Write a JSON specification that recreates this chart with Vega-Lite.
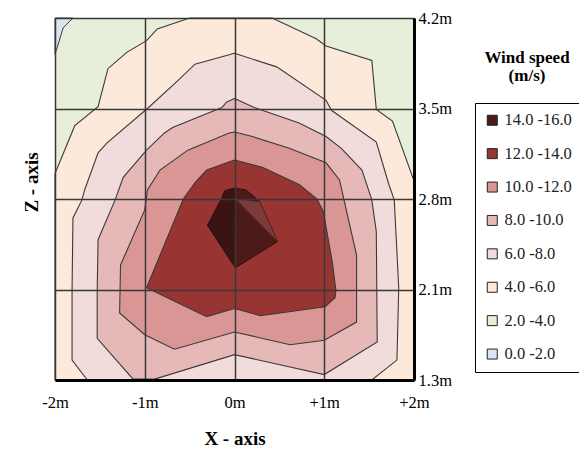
{
  "$schema": "https://vega.github.io/schema/vega-lite/v6.json",
  "width": 359,
  "height": 362,
  "autosize": {"type": "none"},
  "padding": {"left": 55, "top": 18, "right": 165, "bottom": 70},
  "background": "white",
  "config": {"view": {"stroke": null}, "font": "Liberation Serif"},
  "title": {"text": ["Wind speed", "(m/s)"], "orient": "top", "anchor": "end", "frame": "group", "align": "center", "dx": 113, "dy": 79, "font": "Liberation Serif", "fontSize": 17, "fontWeight": "bold", "color": "black", "lineHeight": 18},
  "datasets": {
    "c2": [{"b":"2.0 -4.0","i":0,"x":-2,"y":0},{"b":"2.0 -4.0","i":1,"x":2,"y":0},{"b":"2.0 -4.0","i":2,"x":2,"y":4},{"b":"2.0 -4.0","i":3,"x":-2,"y":4},{"b":"2.0 -4.0","i":4,"x":-2,"y":0}],
    "c0": [{"b":"0.0 -2.0","i":0,"x":-2,"y":4},{"b":"0.0 -2.0","i":1,"x":-1.8,"y":4},{"b":"0.0 -2.0","i":2,"x":-1.91,"y":3.89},{"b":"0.0 -2.0","i":3,"x":-1.97,"y":3.69},{"b":"0.0 -2.0","i":4,"x":-2,"y":3.6},{"b":"0.0 -2.0","i":5,"x":-2,"y":4}],
    "c4": [{"b":"4.0 -6.0","i":0,"x":-0.5,"y":4},{"b":"4.0 -6.0","i":1,"x":-0.86,"y":3.88},{"b":"4.0 -6.0","i":2,"x":-0.98,"y":3.75},{"b":"4.0 -6.0","i":3,"x":-1.2,"y":3.62},{"b":"4.0 -6.0","i":4,"x":-1.41,"y":3.44},{"b":"4.0 -6.0","i":5,"x":-1.52,"y":3.02},{"b":"4.0 -6.0","i":6,"x":-1.78,"y":2.81},{"b":"4.0 -6.0","i":7,"x":-2,"y":2.28},{"b":"4.0 -6.0","i":8,"x":-2,"y":0},{"b":"4.0 -6.0","i":9,"x":2,"y":0},{"b":"4.0 -6.0","i":10,"x":2,"y":2.2},{"b":"4.0 -6.0","i":11,"x":1.76,"y":2.86},{"b":"4.0 -6.0","i":12,"x":1.58,"y":2.99},{"b":"4.0 -6.0","i":13,"x":1.53,"y":3.53},{"b":"4.0 -6.0","i":14,"x":1.02,"y":3.69},{"b":"4.0 -6.0","i":15,"x":0.91,"y":3.77},{"b":"4.0 -6.0","i":16,"x":0.42,"y":4},{"b":"4.0 -6.0","i":17,"x":-0.5,"y":4}],
    "c6": [{"b":"6.0 -8.0","i":0,"x":0,"y":3.61},{"b":"6.0 -8.0","i":1,"x":0.47,"y":3.46},{"b":"6.0 -8.0","i":2,"x":1.02,"y":3.09},{"b":"6.0 -8.0","i":3,"x":1.08,"y":2.98},{"b":"6.0 -8.0","i":4,"x":1.58,"y":2.63},{"b":"6.0 -8.0","i":5,"x":1.72,"y":2.16},{"b":"6.0 -8.0","i":6,"x":1.78,"y":1.99},{"b":"6.0 -8.0","i":7,"x":1.83,"y":1.02},{"b":"6.0 -8.0","i":8,"x":1.81,"y":0.22},{"b":"6.0 -8.0","i":9,"x":1.53,"y":0},{"b":"6.0 -8.0","i":10,"x":-1.64,"y":0},{"b":"6.0 -8.0","i":11,"x":-1.81,"y":0.22},{"b":"6.0 -8.0","i":12,"x":-1.81,"y":0.99},{"b":"6.0 -8.0","i":13,"x":-1.8,"y":1.79},{"b":"6.0 -8.0","i":14,"x":-1.7,"y":1.99},{"b":"6.0 -8.0","i":15,"x":-1.67,"y":2.1},{"b":"6.0 -8.0","i":16,"x":-1.52,"y":2.51},{"b":"6.0 -8.0","i":17,"x":-1.42,"y":2.62},{"b":"6.0 -8.0","i":18,"x":-0.97,"y":3.0},{"b":"6.0 -8.0","i":19,"x":-0.64,"y":3.3},{"b":"6.0 -8.0","i":20,"x":-0.44,"y":3.49},{"b":"6.0 -8.0","i":21,"x":0,"y":3.61}],
    "c8": [{"b":"8.0 -10.0","i":0,"x":0,"y":3.11},{"b":"8.0 -10.0","i":1,"x":0.22,"y":3.01},{"b":"8.0 -10.0","i":2,"x":0.72,"y":2.84},{"b":"8.0 -10.0","i":3,"x":1.02,"y":2.69},{"b":"8.0 -10.0","i":4,"x":1.19,"y":2.56},{"b":"8.0 -10.0","i":5,"x":1.42,"y":2.32},{"b":"8.0 -10.0","i":6,"x":1.53,"y":1.99},{"b":"8.0 -10.0","i":7,"x":1.58,"y":1.64},{"b":"8.0 -10.0","i":8,"x":1.59,"y":0.42},{"b":"8.0 -10.0","i":9,"x":1.0,"y":0.06},{"b":"8.0 -10.0","i":10,"x":0,"y":0.28},{"b":"8.0 -10.0","i":11,"x":-0.89,"y":0.01},{"b":"8.0 -10.0","i":12,"x":-1.13,"y":0.01},{"b":"8.0 -10.0","i":13,"x":-1.53,"y":0.46},{"b":"8.0 -10.0","i":14,"x":-1.53,"y":0.99},{"b":"8.0 -10.0","i":15,"x":-1.52,"y":1.55},{"b":"8.0 -10.0","i":16,"x":-1.33,"y":1.99},{"b":"8.0 -10.0","i":17,"x":-1.24,"y":2.24},{"b":"8.0 -10.0","i":18,"x":-0.98,"y":2.54},{"b":"8.0 -10.0","i":19,"x":-0.78,"y":2.73},{"b":"8.0 -10.0","i":20,"x":-0.69,"y":2.79},{"b":"8.0 -10.0","i":21,"x":-0.14,"y":3.01},{"b":"8.0 -10.0","i":22,"x":-0.09,"y":3.07},{"b":"8.0 -10.0","i":23,"x":0,"y":3.11}],
    "c10": [{"b":"10.0 -12.0","i":0,"x":0,"y":2.74},{"b":"10.0 -12.0","i":1,"x":0.2,"y":2.69},{"b":"10.0 -12.0","i":2,"x":0.61,"y":2.56},{"b":"10.0 -12.0","i":3,"x":1.02,"y":2.4},{"b":"10.0 -12.0","i":4,"x":1.17,"y":2.21},{"b":"10.0 -12.0","i":5,"x":1.22,"y":1.99},{"b":"10.0 -12.0","i":6,"x":1.36,"y":1.38},{"b":"10.0 -12.0","i":7,"x":1.36,"y":0.64},{"b":"10.0 -12.0","i":8,"x":1.0,"y":0.44},{"b":"10.0 -12.0","i":9,"x":0.62,"y":0.39},{"b":"10.0 -12.0","i":10,"x":0,"y":0.53},{"b":"10.0 -12.0","i":11,"x":-0.67,"y":0.34},{"b":"10.0 -12.0","i":12,"x":-1.0,"y":0.5},{"b":"10.0 -12.0","i":13,"x":-1.28,"y":0.74},{"b":"10.0 -12.0","i":14,"x":-1.27,"y":1.27},{"b":"10.0 -12.0","i":15,"x":-1.0,"y":1.88},{"b":"10.0 -12.0","i":16,"x":-0.97,"y":2.1},{"b":"10.0 -12.0","i":17,"x":-0.83,"y":2.32},{"b":"10.0 -12.0","i":18,"x":-0.52,"y":2.54},{"b":"10.0 -12.0","i":19,"x":-0.06,"y":2.73},{"b":"10.0 -12.0","i":20,"x":0,"y":2.74}],
    "c12": [{"b":"12.0 -14.0","i":0,"x":0,"y":2.43},{"b":"12.0 -14.0","i":1,"x":0.31,"y":2.35},{"b":"12.0 -14.0","i":2,"x":0.72,"y":2.16},{"b":"12.0 -14.0","i":3,"x":0.92,"y":2.0},{"b":"12.0 -14.0","i":4,"x":0.99,"y":1.86},{"b":"12.0 -14.0","i":5,"x":1.09,"y":1.3},{"b":"12.0 -14.0","i":6,"x":1.13,"y":0.99},{"b":"12.0 -14.0","i":7,"x":1.12,"y":0.91},{"b":"12.0 -14.0","i":8,"x":1.01,"y":0.81},{"b":"12.0 -14.0","i":9,"x":0.29,"y":0.71},{"b":"12.0 -14.0","i":10,"x":0,"y":0.79},{"b":"12.0 -14.0","i":11,"x":-0.31,"y":0.7},{"b":"12.0 -14.0","i":12,"x":-0.98,"y":1.02},{"b":"12.0 -14.0","i":13,"x":-0.57,"y":2.0},{"b":"12.0 -14.0","i":14,"x":-0.44,"y":2.18},{"b":"12.0 -14.0","i":15,"x":-0.31,"y":2.32},{"b":"12.0 -14.0","i":16,"x":0,"y":2.43}],
    "c14": [{"b":"14.0 -16.0","i":0,"x":0,"y":2.12},{"b":"14.0 -16.0","i":1,"x":0.13,"y":2.1},{"b":"14.0 -16.0","i":2,"x":0.28,"y":1.97},{"b":"14.0 -16.0","i":3,"x":0.48,"y":1.53},{"b":"14.0 -16.0","i":4,"x":0.01,"y":1.24},{"b":"14.0 -16.0","i":5,"x":-0.3,"y":1.71},{"b":"14.0 -16.0","i":6,"x":-0.14,"y":2.01},{"b":"14.0 -16.0","i":7,"x":-0.11,"y":2.09},{"b":"14.0 -16.0","i":8,"x":0,"y":2.12}],
    "s1": [{"i":0,"x":0,"y":2.12},{"i":1,"x":-0.11,"y":2.09},{"i":2,"x":-0.14,"y":2.01},{"i":3,"x":-0.3,"y":1.71},{"i":4,"x":0.01,"y":1.24},{"i":5,"x":0,"y":2.12}],
    "s2": [{"i":0,"x":0.01,"y":2.0},{"i":1,"x":0.28,"y":1.97},{"i":2,"x":0.48,"y":1.53},{"i":3,"x":0.01,"y":2.0}]
  },
  "encoding": {
    "x": {"field": "x", "type": "quantitative", "scale": {"domain": [-2, 2], "nice": false, "zero": false},
      "axis": {"values": [-2, -1, 0, 1, 2], "labelExpr": "datum.value > 0 ? '+' + datum.value + 'm' : datum.value + 'm'", "title": "X - axis", "ticks": false, "domainColor": "black", "domainWidth": 3, "grid": true, "gridColor": "#383838", "gridWidth": 1.5, "labelFont": "Liberation Serif", "labelFontSize": 16.5, "labelColor": "black", "labelPadding": 14, "labelFlush": false, "labelOverlap": false, "titleFont": "Liberation Serif", "titleFontSize": 19, "titleFontWeight": "bold", "titleColor": "black", "titlePadding": 19, "zindex": 1}},
    "y": {"field": "y", "type": "quantitative", "scale": {"domain": [0, 4], "nice": false, "zero": false}, "axis": null},
    "order": {"field": "i", "type": "quantitative"},
    "fill": {"field": "b", "type": "nominal",
      "scale": {"domain": ["14.0 -16.0", "12.0 -14.0", "10.0 -12.0", "8.0 -10.0", "6.0 -8.0", "4.0 -6.0", "2.0 -4.0", "0.0 -2.0"],
                "range": ["#4c1a19", "#983533", "#d99694", "#e6b9b8", "#f2dcdb", "#fce9da", "#e7eeda", "#dbe5f1"]},
      "legend": {"orient": "none", "legendX": 420, "legendY": 85, "title": null, "strokeColor": "black", "padding": 9, "symbolType": "square", "symbolSize": 100, "symbolStrokeColor": "#222", "symbolStrokeWidth": 1, "symbolOpacity": 1, "labelFont": "Liberation Serif", "labelFontSize": 16.5, "labelColor": "#222", "labelOffset": 4, "rowPadding": 16.4}}
  },
  "layer": [
    {"data": {"name": "c2"}, "mark": {"type": "line", "strokeWidth": 0},
     "encoding": {"y": {"field": "y", "type": "quantitative", "scale": {"domain": [0, 4], "nice": false, "zero": false},
       "axis": {"orient": "left", "title": "Z - axis", "labels": false, "ticks": false, "domain": false, "grid": false, "titleFont": "Liberation Serif", "titleFontSize": 19, "titleFontWeight": "bold", "titleColor": "black", "titlePadding": 14, "titleY": 164}}}},
    {"data": {"name": "c0"}, "mark": {"type": "line", "stroke": "#3a3a3a", "strokeWidth": 1},
     "encoding": {"y": {"field": "y", "type": "quantitative", "scale": {"domain": [0, 4], "nice": false, "zero": false},
       "axis": {"orient": "right", "values": [0, 1, 2, 3, 4], "labelExpr": "['1.3m','2.1m','2.8m','3.5m','4.2m'][datum.value]", "title": null, "ticks": false, "domain": true, "domainColor": "black", "domainWidth": 3, "grid": true, "gridColor": "#383838", "gridWidth": 1.5, "labelFont": "Liberation Serif", "labelFontSize": 16.5, "labelColor": "black", "labelPadding": 4, "labelFlush": false, "labelOverlap": false, "zindex": 1}}}},
    {"data": {"name": "c4"}, "mark": {"type": "line", "stroke": "#3a3a3a", "strokeWidth": 1.1}},
    {"data": {"name": "c6"}, "mark": {"type": "line", "stroke": "#3a3a3a", "strokeWidth": 1.1}},
    {"data": {"name": "c8"}, "mark": {"type": "line", "stroke": "#3a3a3a", "strokeWidth": 1.1}},
    {"data": {"name": "c10"}, "mark": {"type": "line", "stroke": "#3a3a3a", "strokeWidth": 1.1}},
    {"data": {"name": "c12"}, "mark": {"type": "line", "stroke": "#3a3a3a", "strokeWidth": 1.1}},
    {"data": {"name": "c14"}, "mark": {"type": "line", "stroke": "#2a1010", "strokeWidth": 1}},
    {"data": {"name": "s1"}, "mark": {"type": "line", "stroke": "#2a1010", "strokeWidth": 0.8}, "encoding": {"fill": {"value": "#3a1413"}}},
    {"data": {"name": "s2"}, "mark": {"type": "line", "stroke": "#5a2020", "strokeWidth": 0.5}, "encoding": {"fill": {"value": "#7b3b3a"}}}
  ],
  "resolve": {"axis": {"y": "independent"}}
}
